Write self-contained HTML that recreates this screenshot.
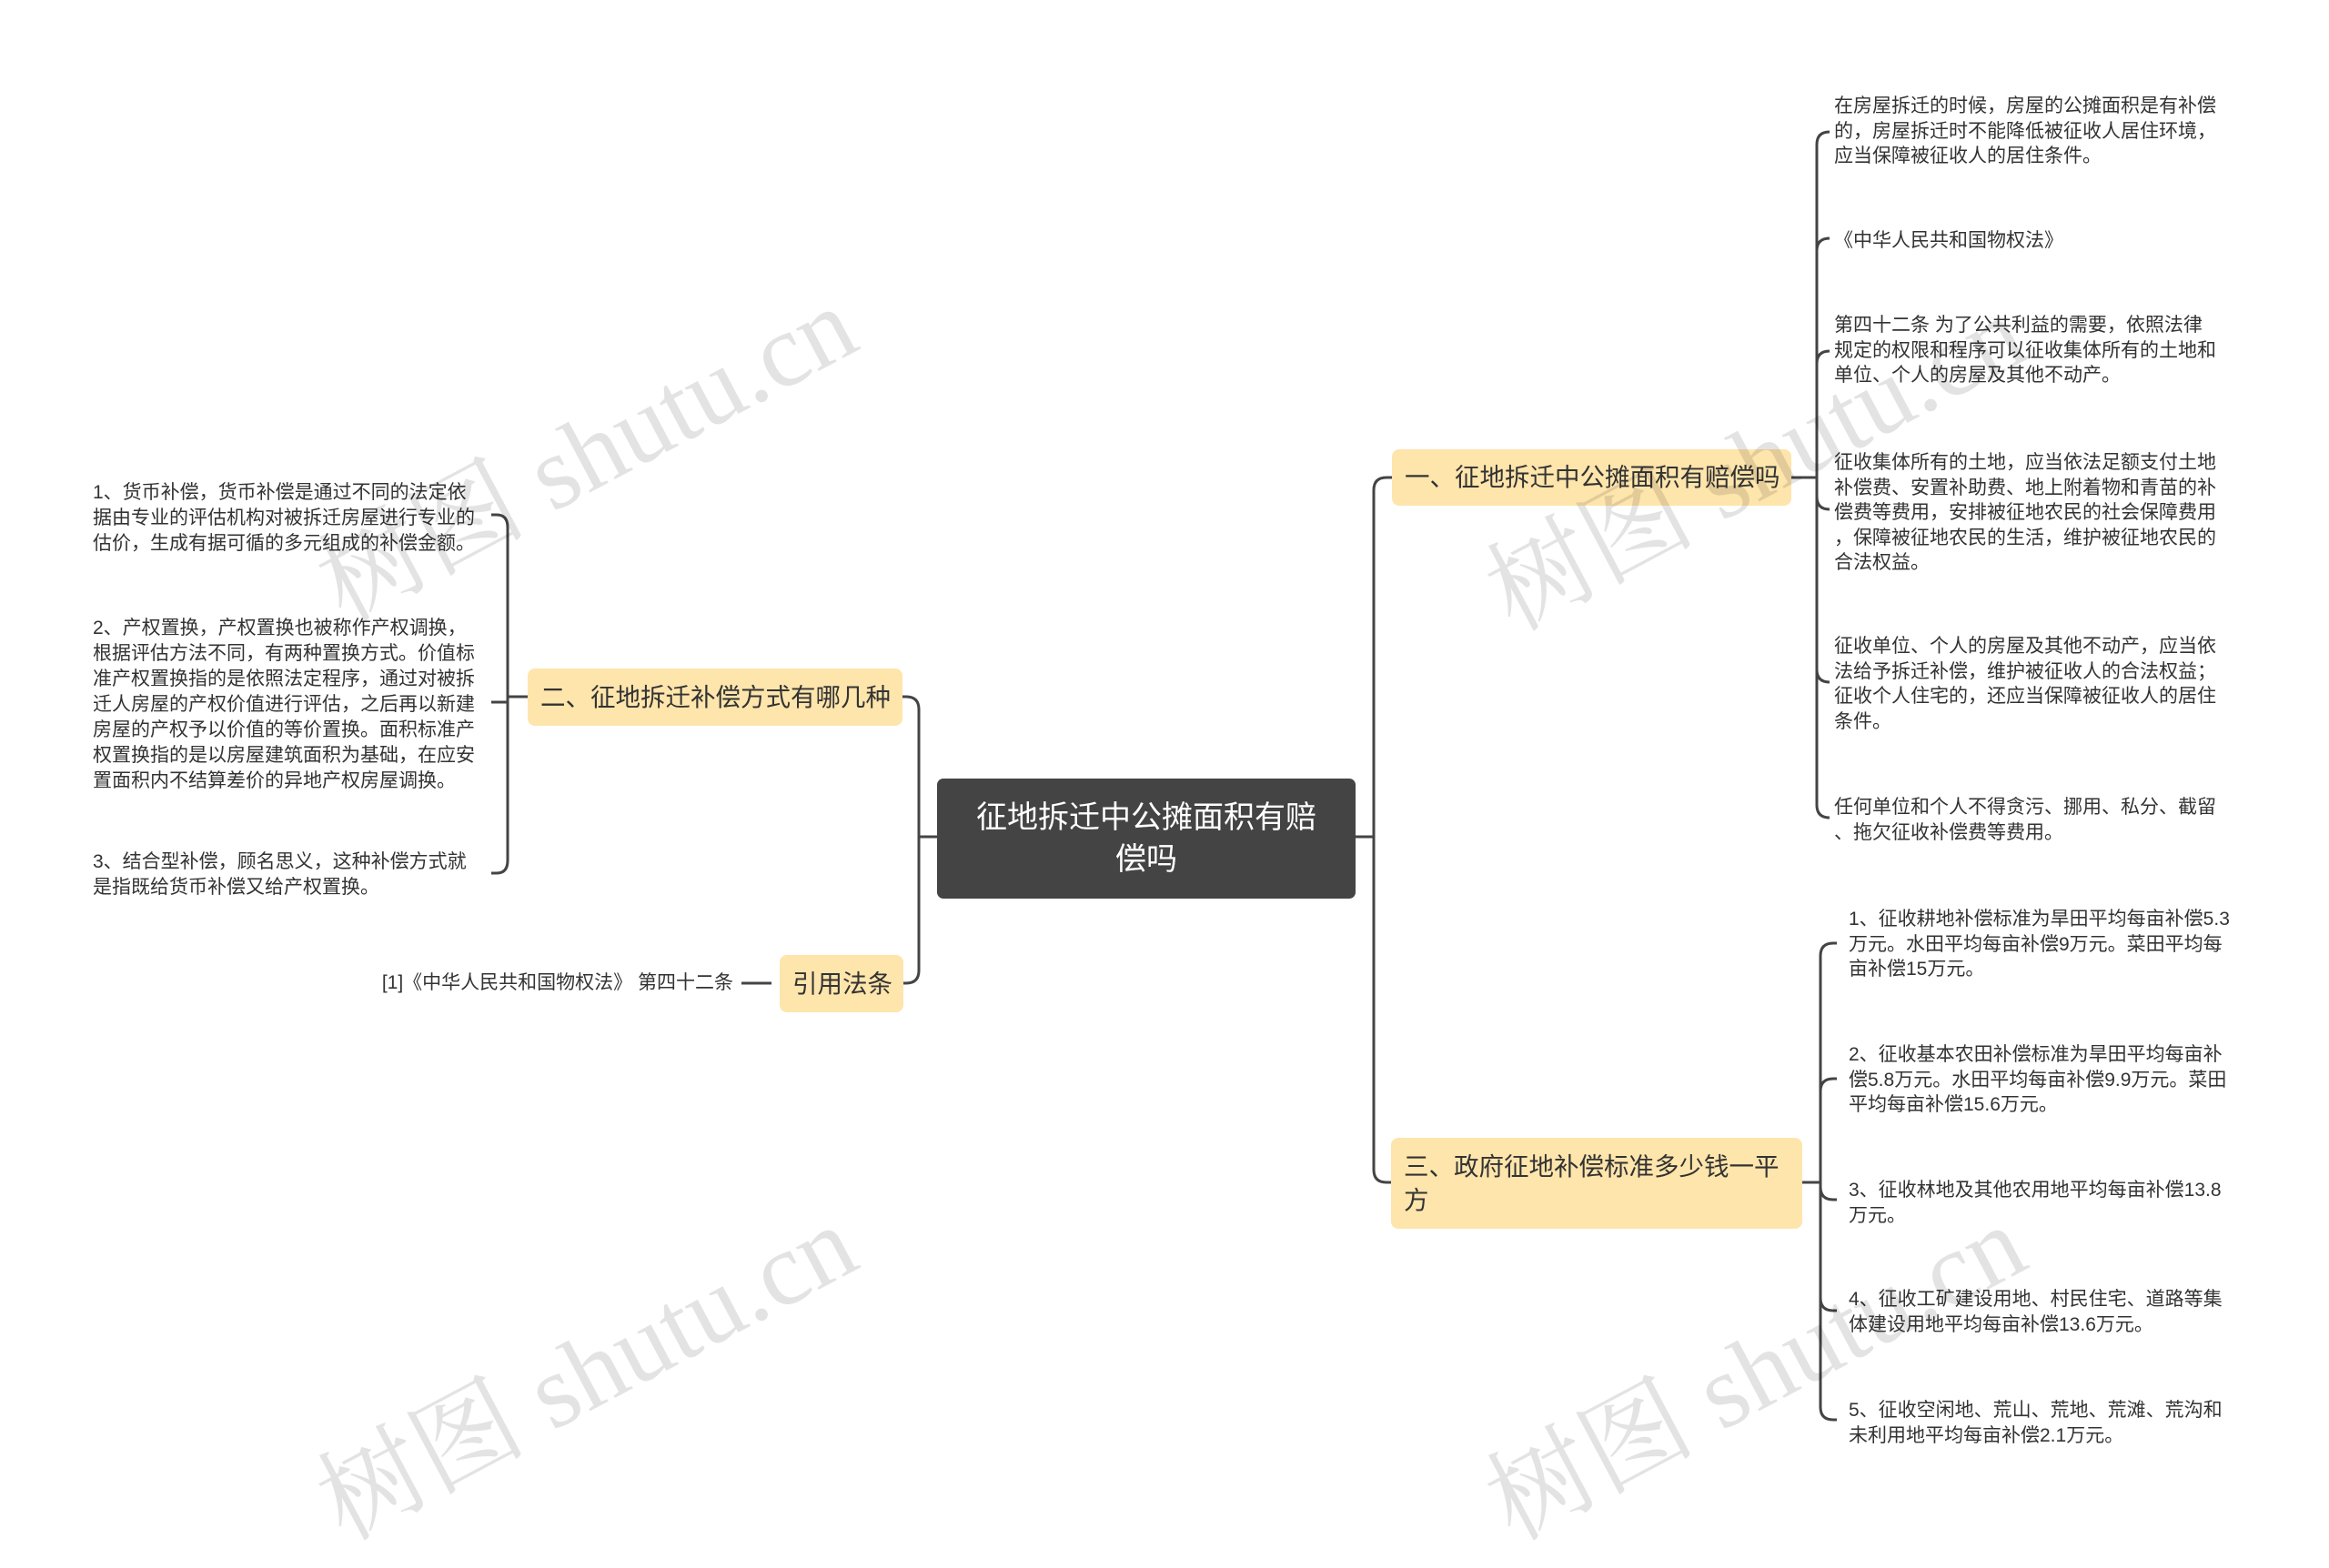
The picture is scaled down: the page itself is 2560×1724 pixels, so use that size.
<!DOCTYPE html>
<html><head><meta charset="utf-8"><style>
html,body{margin:0;padding:0}
body{width:2560px;height:1693px;position:relative;background:#fff;overflow:hidden;font-family:"Liberation Sans","Noto Sans CJK SC",sans-serif;color:#333}
.t{position:absolute;font-size:21px;line-height:27.5px;white-space:nowrap;color:#333}
.b{position:absolute;background:#fee5ac;border-radius:8px;font-size:27.5px;color:#333;box-sizing:border-box;padding-left:14px;white-space:nowrap}
.wm{position:absolute;font-family:"Liberation Serif","Noto Serif CJK SC",serif;font-size:115px;color:rgba(0,0,0,0.11);white-space:nowrap;transform:translate(-50%,-50%) rotate(-28deg)}
</style></head><body>
<svg width="2560" height="1693" style="position:absolute;left:0;top:0" fill="none" stroke="#444" stroke-width="3">
<path d="M1030 920 L1010 920"/>
<path d="M1010 780 L1010 1067"/>
<path d="M992 766 L996 766 Q1010 766 1010 780"/>
<path d="M992 1081 L996 1081 Q1010 1081 1010 1067"/>
<path d="M1490 920 L1510 920"/>
<path d="M1510 539 L1510 1286"/>
<path d="M1530 525 L1524 525 Q1510 525 1510 539"/>
<path d="M1529 1300 L1524 1300 Q1510 1300 1510 1286"/>
<path d="M580 766 L558 766"/>
<path d="M558 580 L558 946"/>
<path d="M540 566 L546 566 Q558 566 558 580"/>
<path d="M540 772 L558 772"/>
<path d="M540 960 L546 960 Q558 960 558 946"/>
<path d="M815 1081 L848 1081"/>
<path d="M1969 525 L1997 525"/>
<path d="M1997 159 L1997 885"/>
<path d="M2011 145 L2011 145 Q1997 145 1997 159"/>
<path d="M2011 262 L2011 262 Q1997 262 1997 276"/>
<path d="M2011 386 L2011 386 Q1997 386 1997 400"/>
<path d="M2011 560 L2011 560 Q1997 560 1997 546"/>
<path d="M2011 750 L2011 750 Q1997 750 1997 736"/>
<path d="M2011 899 L2011 899 Q1997 899 1997 885"/>
<path d="M1981 1300 L2001 1300"/>
<path d="M2001 1051 L2001 1547"/>
<path d="M2019 1037 L2015 1037 Q2001 1037 2001 1051"/>
<path d="M2019 1186 L2015 1186 Q2001 1186 2001 1200"/>
<path d="M2019 1319 L2015 1319 Q2001 1319 2001 1305"/>
<path d="M2019 1441 L2015 1441 Q2001 1441 2001 1427"/>
<path d="M2019 1561 L2015 1561 Q2001 1561 2001 1547"/>
</svg>

<div style="position:absolute;left:1030px;top:856px;width:460px;height:132px;background:#444;border-radius:7px;color:#fff;font-size:34px;line-height:46px;text-align:center;box-sizing:border-box;padding-top:20px">征地拆迁中公摊面积有赔<br>偿吗</div>

<div class="b" style="left:580px;top:735px;width:412px;height:63px;line-height:63px">二、征地拆迁补偿方式有哪几种</div>
<div class="b" style="left:857px;top:1050px;width:136px;height:63px;line-height:63px">引用法条</div>
<div class="b" style="left:1530px;top:494px;width:439px;height:62px;line-height:62px">一、征地拆迁中公摊面积有赔偿吗</div>
<div class="b" style="left:1529px;top:1251px;width:452px;height:100px;line-height:37px;padding-top:13px">三、政府征地补偿标准多少钱一平<br>方</div>

<div class="t" style="left:102px;top:528px;line-height:28px">1、货币补偿，货币补偿是通过不同的法定依<br>据由专业的评估机构对被拆迁房屋进行专业的<br>估价，生成有据可循的多元组成的补偿金额。</div>
<div class="t" style="left:102px;top:677px;line-height:28px">2、产权置换，产权置换也被称作产权调换，<br>根据评估方法不同，有两种置换方式。价值标<br>准产权置换指的是依照法定程序，通过对被拆<br>迁人房屋的产权价值进行评估，之后再以新建<br>房屋的产权予以价值的等价置换。面积标准产<br>权置换指的是以房屋建筑面积为基础，在应安<br>置面积内不结算差价的异地产权房屋调换。</div>
<div class="t" style="left:102px;top:934px;line-height:28px">3、结合型补偿，顾名思义，这种补偿方式就<br>是指既给货币补偿又给产权置换。</div>
<div class="t" style="right:1754px;top:1067px">[1]《中华人民共和国物权法》 第四十二条</div>

<div class="t" style="left:2016px;top:103px">在房屋拆迁的时候，房屋的公摊面积是有补偿<br>的，房屋拆迁时不能降低被征收人居住环境，<br>应当保障被征收人的居住条件。</div>
<div class="t" style="left:2016px;top:251px">《中华人民共和国物权法》</div>
<div class="t" style="left:2016px;top:344px">第四十二条 为了公共利益的需要，依照法律<br>规定的权限和程序可以征收集体所有的土地和<br>单位、个人的房屋及其他不动产。</div>
<div class="t" style="left:2016px;top:495px">征收集体所有的土地，应当依法足额支付土地<br>补偿费、安置补助费、地上附着物和青苗的补<br>偿费等费用，安排被征地农民的社会保障费用<br>，保障被征地农民的生活，维护被征地农民的<br>合法权益。</div>
<div class="t" style="left:2016px;top:697px">征收单位、个人的房屋及其他不动产，应当依<br>法给予拆迁补偿，维护被征收人的合法权益；<br>征收个人住宅的，还应当保障被征收人的居住<br>条件。</div>
<div class="t" style="left:2016px;top:874px">任何单位和个人不得贪污、挪用、私分、截留<br>、拖欠征收补偿费等费用。</div>

<div class="t" style="left:2032px;top:997px">1、征收耕地补偿标准为旱田平均每亩补偿5.3<br>万元。水田平均每亩补偿9万元。菜田平均每<br>亩补偿15万元。</div>
<div class="t" style="left:2032px;top:1146px">2、征收基本农田补偿标准为旱田平均每亩补<br>偿5.8万元。水田平均每亩补偿9.9万元。菜田<br>平均每亩补偿15.6万元。</div>
<div class="t" style="left:2032px;top:1295px">3、征收林地及其他农用地平均每亩补偿13.8<br>万元。</div>
<div class="t" style="left:2032px;top:1415px">4、征收工矿建设用地、村民住宅、道路等集<br>体建设用地平均每亩补偿13.6万元。</div>
<div class="t" style="left:2032px;top:1537px">5、征收空闲地、荒山、荒地、荒滩、荒沟和<br>未利用地平均每亩补偿2.1万元。</div>

<div class="wm" style="left:640px;top:490px">树图 shutu.cn</div>
<div class="wm" style="left:640px;top:1500px">树图 shutu.cn</div>
<div class="wm" style="left:1925px;top:500px">树图 shutu.cn</div>
<div class="wm" style="left:1925px;top:1500px">树图 shutu.cn</div>
</body></html>
